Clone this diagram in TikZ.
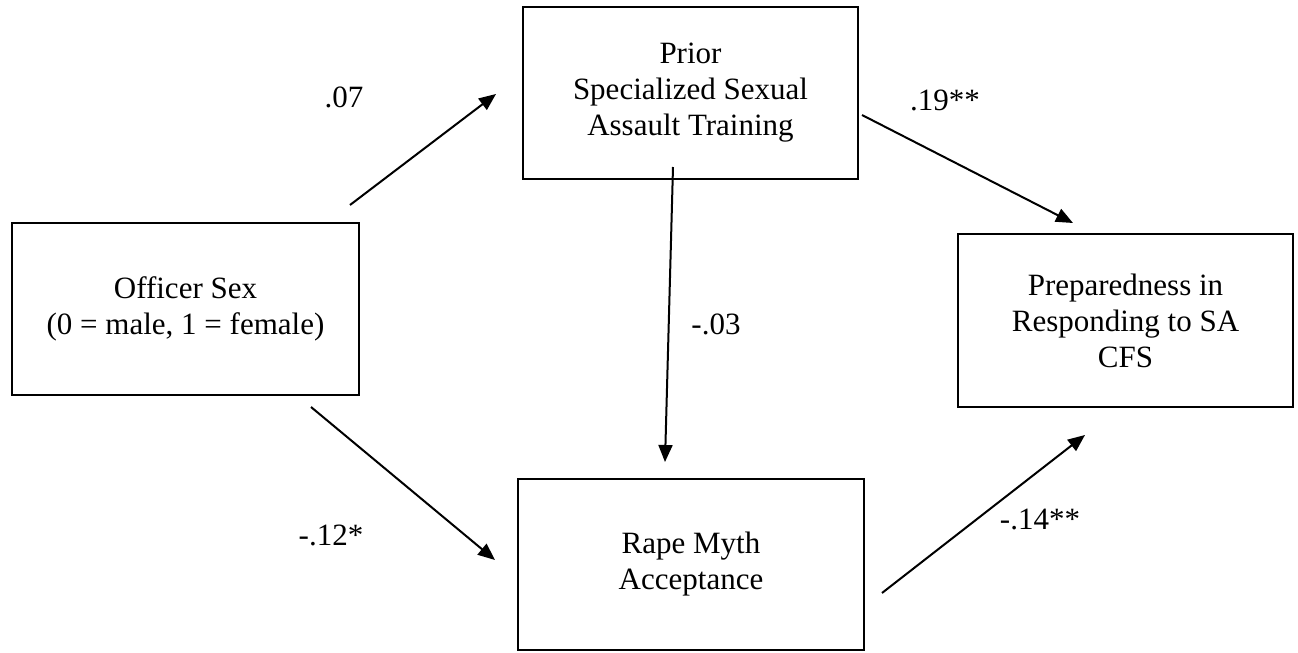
\documentclass[tikz,border=0pt]{standalone}
\usepackage{fontspec}
\setmainfont{Liberation Serif}
\usetikzlibrary{arrows.meta}
\tikzset{
  varbox/.style={draw,rectangle,line width=1pt,inner sep=0pt,outer sep=0pt,align=center,
    font=\fontsize{15.5pt}{18pt}\selectfont},
  coef/.style={font=\fontsize{15.5pt}{18pt}\selectfont},
  path/.style={line width=1pt,-{Triangle[length=8.5pt,width=7pt]}},
}

\begin{document}
\begin{tikzpicture}[x=0.5pt,y=-0.5pt]
  \useasboundingbox (0,0) rectangle (1298,653);
  % variables
  \node[varbox,minimum width=173.5pt,minimum height=86pt] (sex) at (185.5,309) {Officer Sex\\(0 = male, 1 = female)};
  \node[varbox,minimum width=167.5pt,minimum height=86pt] (train) at (690.5,93) {Prior\\Specialized Sexual\\Assault Training};
  \node[varbox,minimum width=173pt,minimum height=85.5pt] (rma) at (691,564.5) {Rape Myth\\Acceptance};
  \node[varbox,minimum width=167.5pt,minimum height=86.5pt] (prep) at (1125.5,320.5) {Preparedness in\\Responding to SA\\CFS};
  % arrow ends
  \coordinate (a1) at (350,205);
  \coordinate (a2) at (496,94);
  \coordinate (b1) at (862,115);
  \coordinate (b2) at (1073,223);
  \coordinate (c1) at (673,167);
  \coordinate (c2) at (665,462);
  \coordinate (d1) at (311,407);
  \coordinate (d2) at (495,560);
  \coordinate (e1) at (882,593);
  \coordinate (e2) at (1085,435);
  \draw[path] (a1) -- (a2);
  \draw[path] (b1) -- (b2);
  \draw[path] (c1) -- (c2);
  \draw[path] (d1) -- (d2);
  \draw[path] (e1) -- (e2);
  % coefficients
  \node[coef] (k07) at (344,97) {.07};
  \node[coef] (k19) at (945,100) {.19**};
  \node[coef] (k03) at (716,324) {-.03};
  \node[coef] (k12) at (331,535) {-.12*};
  \node[coef] (k14) at (1040,519) {-.14**};
\end{tikzpicture}
\end{document}
